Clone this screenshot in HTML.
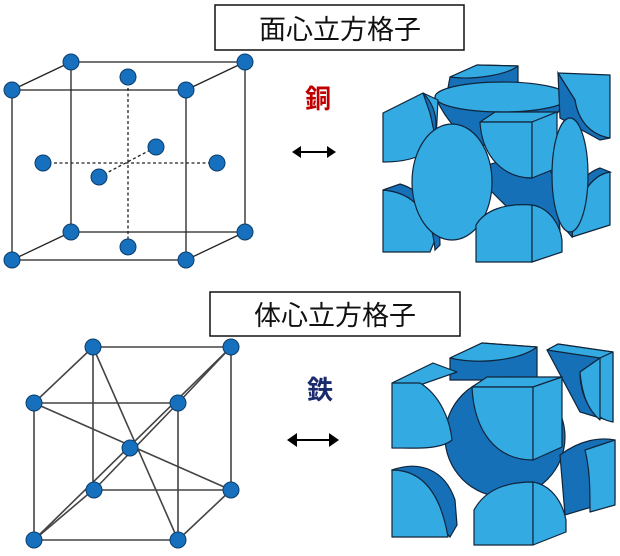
<!DOCTYPE html>
<html><head><meta charset="utf-8"><style>
html,body{margin:0;padding:0;background:#fff;width:620px;height:556px;overflow:hidden}
svg{display:block}
text{font-family:"Liberation Sans","Noto Sans CJK JP",sans-serif}
</style></head><body>
<svg width="620" height="556" viewBox="0 0 620 556" xmlns="http://www.w3.org/2000/svg">
<defs>
<style>.L{fill:#34aae2;stroke:#10243a;stroke-width:1.2;stroke-linejoin:round}.D{fill:#1570b8;stroke:#10243a;stroke-width:1.2}.n{fill:#1670bd;stroke:#0b3d6b;stroke-width:1}</style>
</defs>
<rect x="215" y="5" width="249" height="45" fill="#fff" stroke="#111" stroke-width="1.5"/>
<text x="340" y="39" font-size="27" text-anchor="middle" fill="#111">面心立方格子</text>
<rect x="210" y="292" width="250" height="44" fill="#fff" stroke="#111" stroke-width="1.5"/>
<text x="335" y="325" font-size="27" text-anchor="middle" fill="#111">体心立方格子</text>
<text x="318" y="108" font-size="26" font-weight="bold" text-anchor="middle" fill="#c00000">銅</text>
<text x="320" y="399" font-size="26" font-weight="bold" text-anchor="middle" fill="#1a2a6c">鉄</text>
<g fill="#000" stroke="#000" stroke-width="2"><line x1="298" y1="152" x2="330" y2="152"/><path d="M292 152l9-6v12zM336 152l-9-6v12z" stroke="none"/>
<line x1="294" y1="440" x2="332" y2="440"/><path d="M287 440l10-7v14zM339 440l-10-7v14z" stroke="none"/></g>

<g stroke="#222" stroke-width="1.3" fill="none">
<path d="M12 90H186V260H12Z M71 62H245V232H71Z M12 90L71 62M186 90L245 62M12 260L71 232M186 260L245 232"/>
<path d="M128 77V247M43 163H217M99 177L156 147" stroke-dasharray="3,2.5"/>
</g>
<g class="n">
<ellipse cx="71" cy="62" rx="8" ry="8"/><ellipse cx="245" cy="62" rx="8" ry="8"/><ellipse cx="12" cy="90" rx="8" ry="8"/><ellipse cx="186" cy="90" rx="8" ry="8"/>
<ellipse cx="71" cy="232" rx="8" ry="8"/><ellipse cx="245" cy="232" rx="8" ry="8"/><ellipse cx="12" cy="260" rx="8" ry="8"/><ellipse cx="186" cy="260" rx="8" ry="8"/>
<ellipse cx="128" cy="77" rx="8" ry="8"/><ellipse cx="128" cy="247" rx="8" ry="8"/><ellipse cx="43" cy="163" rx="8" ry="8"/><ellipse cx="217" cy="163" rx="8" ry="8"/>
<ellipse cx="99" cy="177" rx="8" ry="8"/><ellipse cx="156" cy="147" rx="8" ry="8"/>
</g>

<g>
<path class="D" d="M448 88L450 77L477 65L518 66L518 88Z"/>
<path class="L" d="M450 77L477 65L518 66C505 76 470 80 450 77Z"/>
<path class="D" d="M436 98C450 130 470 140 480 145L530 150C545 130 560 110 568 98Z"/>
<path class="D" d="M470 170L500 200L520 220L560 230L555 180L540 150Z"/>
<ellipse class="L" cx="502" cy="97" rx="67" ry="15"/>
<path class="L" d="M558 73L610 75L610 138C590 135 578 120 575 100Z"/>
<path class="D" d="M558 73L575 100C578 120 590 135 610 138L600 140L560 118Z"/>
<path class="L" d="M383 113L423 93L438 100L436 140C430 155 410 162 383 162Z"/>
<path class="D" d="M423 93C430 100 436 110 436 125L436 140L430 113Z"/>
<path class="L" d="M480 122L495 112L557 112L532 122Z"/>
<path class="L" d="M480 122H532V178C505 178 482 158 480 122Z"/>
<path class="L" d="M532 122L557 112V168L532 178Z"/>
<path class="L" d="M383 190C410 192 432 210 435 240L430 252H383Z"/>
<path class="D" d="M383 190L400 184C420 190 440 210 440 245L435 250C432 210 410 192 383 190Z"/>
<ellipse class="L" cx="452" cy="182" rx="40" ry="58"/>
<path class="L" d="M572 237L610 225V172C590 175 575 200 572 237Z"/>
<path class="D" d="M572 237C575 200 590 175 610 172L600 168C580 175 566 200 566 230Z"/>
<ellipse class="L" cx="570" cy="175" rx="18" ry="57"/>
<path class="L" d="M476 262V225C485 210 505 203 532 205V262Z"/>
<path class="L" d="M532 205C550 208 560 225 562 240V252L532 262Z"/>
</g>

<g stroke="#444" stroke-width="1.6" fill="none">
<path d="M34 403H178V540H34Z M93 347H231V490H93Z M34 403L93 347M178 403L231 347M34 540L93 490M178 540L231 490"/>
<path d="M93 347L178 540M231 347L34 540M34 403L231 490M178 403L94 490"/>
</g>
<g class="n">
<circle cx="93" cy="347" r="8"/><circle cx="231" cy="347" r="8"/><circle cx="34" cy="403" r="8"/><circle cx="178" cy="403" r="8"/>
<circle cx="130" cy="448" r="8"/><circle cx="94" cy="490" r="8"/><circle cx="231" cy="490" r="8"/><circle cx="34" cy="540" r="8"/><circle cx="178" cy="540" r="8"/>
</g>

<g>
<path class="D" d="M450 358L482 343L537 347V380L450 380Z"/>
<path class="L" d="M450 358L482 343L537 347C520 360 480 365 450 358Z"/>
<path class="D" d="M547 350L558 344L613 352V422L580 412Z"/>
<path class="L" d="M547 350L558 344L613 352L600 358Z"/>
<path class="L" d="M600 358L613 352V422C590 418 580 395 580 372Z"/>
<path class="L" d="M580 372L600 358V420C588 410 582 395 580 372Z"/>
<circle class="D" cx="505" cy="437" r="60"/>
<path class="L" d="M392 383L433 363L457 372L420 385Z"/>
<path class="L" d="M392 383H420C440 395 450 420 452 440C440 450 415 448 392 448Z"/>
<path class="L" d="M472 387L487 377L562 377L533 387Z"/>
<path class="L" d="M472 387H533V460C495 460 474 430 472 387Z"/>
<path class="L" d="M533 387L562 377V447L533 460Z"/>
<path class="D" d="M392 470C420 460 445 470 455 500L457 525L450 537Z"/>
<path class="L" d="M392 470C420 470 440 490 448 537H392Z"/>
<path class="D" d="M560 455C580 440 600 437 615 440V500L565 515Z"/>
<path class="L" d="M585 450L615 440V505L590 512C590 490 590 470 585 450Z"/>
<path class="L" d="M474 545V510C485 490 505 482 533 482V545Z"/>
<path class="L" d="M533 482C550 485 562 500 566 520V532L533 545Z"/>
</g>
</svg>
</body></html>
